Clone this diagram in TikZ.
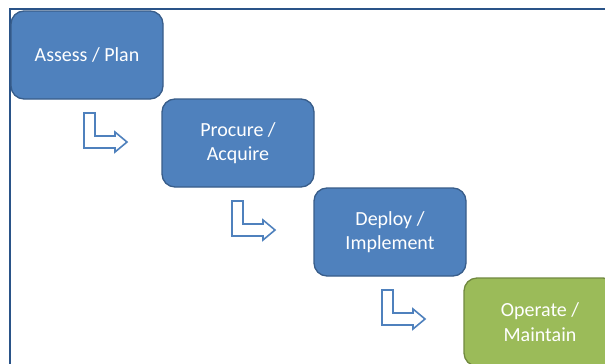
\documentclass[tikz,border=0pt]{standalone}
\usepackage{fontspec}
\setmainfont{Carlito}
\definecolor{boxblue}{HTML}{4F81BD}
\definecolor{boxblueedge}{HTML}{385D8A}
\definecolor{boxgreen}{HTML}{9BBB59}
\definecolor{boxgreenedge}{HTML}{71893F}
\definecolor{framecol}{HTML}{2A5388}
\tikzset{
  stagebox/.style={rectangle, rounded corners=13pt, minimum width=152pt, minimum height=88pt,
    inner sep=0pt, line width=1.3pt, text=white, align=center,
    font=\fontsize{20}{24.5}\selectfont},
  bluebox/.style={stagebox, fill=boxblue, draw=boxblueedge},
  greenbox/.style={stagebox, fill=boxgreen, draw=boxgreenedge},
  bentarrow/.style={draw=boxblue, fill=white, line width=1.6pt, line join=miter},
}
\newcommand{\bentarr}[2]{%
  \draw[bentarrow] (#1,#2) -- ++(11,0) -- ++(0,23) -- ++(20,0) -- ++(0,-4) -- ++(12,10)
    -- ++(-12,10) -- ++(0,-4) -- ++(-31,0) -- cycle;}
\begin{document}
\begin{tikzpicture}[x=1pt,y=-1pt]
\useasboundingbox (0,0) rectangle (605,364);
\fill[white] (0,0) rectangle (605,364);
\begin{scope}
\clip (0,0) rectangle (605,364);
\draw[framecol, line width=2pt] (10,370) -- (10,9) -- (610,9);
\node[bluebox] (assess) at (87,55) {Assess / Plan};
\node[bluebox] (procure) at (238,143) {Procure /\\Acquire};
\node[bluebox] (deploy) at (390,232) {Deploy /\\Implement};
\node[greenbox] (operate) at (540,322) {Operate /\\Maintain};
\bentarr{84}{113}
\bentarr{232}{201}
\bentarr{382}{290}
\end{scope}
\end{tikzpicture}
\end{document}
